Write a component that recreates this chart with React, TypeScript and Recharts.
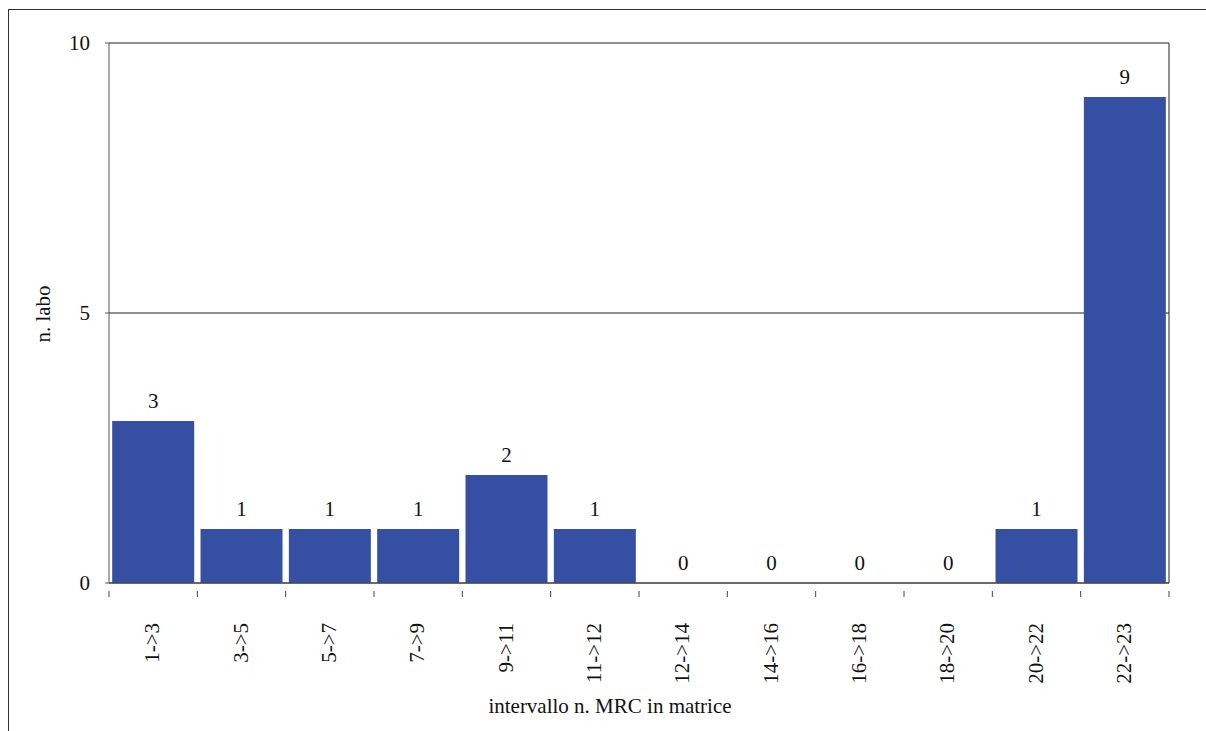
import { Bar, Line, XAxis, YAxis, CartesianGrid, LabelList, ComposedChart } from "recharts";

// Labs per interval of reference materials in the matrix
const intervals = [
  "1->3",
  "3->5",
  "5->7",
  "7->9",
  "9->11",
  "11->12",
  "12->14",
  "14->16",
  "16->18",
  "18->20",
  "20->22",
  "22->23",
];
const labCounts = [3, 1, 1, 1, 2, 1, 0, 0, 0, 0, 1, 9];
const yTicks = [0, 5, 10];

const data = intervals.map((name, i) => ({ name, count: labCounts[i] }));

const WIDTH = 1206;
const HEIGHT = 731;
const PLOT_LEFT = 109;
const PLOT_RIGHT_GAP = 37;
const BAND = (WIDTH - PLOT_LEFT - PLOT_RIGHT_GAP) / intervals.length;
const FONT = '"Liberation Serif", "Times New Roman", serif';
const TEXT = { fontSize: 21, fill: "#111", fontFamily: FONT };

type TickProps = {
  x?: number;
  y?: number;
  index?: number;
  payload?: { value: string };
};

// Rotated category label, with tick marks on the band edges instead of the centre
function IntervalTick({ x = 0, y = 0, index = 0, payload }: TickProps) {
  const left = x - BAND / 2;
  const right = x + BAND / 2;
  return (
    <g>
      <line x1={left} y1={y} x2={left} y2={y + 6} stroke="#444" />
      {index === intervals.length - 1 && (
        <line x1={right} y1={y} x2={right} y2={y + 6} stroke="#444" />
      )}
      <text
        x={x + 6}
        y={y + 32}
        transform={`rotate(-90, ${x + 6}, ${y + 32})`}
        textAnchor="end"
        {...TEXT}
      >
        {payload?.value}
      </text>
    </g>
  );
}

export default function App() {
  return (
    <div
      style={{
        position: "fixed",
        left: 0,
        top: 0,
        width: WIDTH,
        height: HEIGHT,
        overflow: "hidden",
        background: "#fff",
      }}
    >
      <div
        style={{
          position: "absolute",
          left: 8,
          top: 9,
          width: 1300,
          height: 800,
          borderLeft: "1.5px solid #333",
          borderTop: "1.5px solid #333",
        }}
      />
      <div style={{ position: "absolute", left: 0, top: 0 }}>
        <ComposedChart
          width={WIDTH}
          height={HEIGHT}
          data={data}
          margin={{ top: 43, right: 0, bottom: 0, left: 0 }}
          barCategoryGap="3.6%"
          style={{ fontFamily: FONT }}
        >
          <CartesianGrid vertical={false} stroke="#222" />
          <XAxis
            dataKey="name"
            interval={0}
            tickLine={false}
            axisLine={{ stroke: "#444" }}
            tick={<IntervalTick />}
            height={148}
          />
          <YAxis
            domain={[0, 10]}
            ticks={yTicks}
            width={PLOT_LEFT}
            tickSize={4}
            tickMargin={15}
            axisLine={{ stroke: "#555" }}
            tickLine={{ stroke: "#555" }}
            tick={TEXT}
          />
          <YAxis
            yAxisId="frame"
            orientation="right"
            width={PLOT_RIGHT_GAP}
            tick={false}
            tickLine={false}
            axisLine={{ stroke: "#222" }}
          />
          <Bar dataKey="count" fill="#3550A2" isAnimationActive={false} />
          {/* invisible series that carries the value labels, zeros included */}
          <Line
            dataKey="count"
            stroke="none"
            dot={false}
            activeDot={false}
            legendType="none"
            isAnimationActive={false}
          >
            <LabelList dataKey="count" position="top" offset={13} style={TEXT} />
          </Line>
          <text
            x={50}
            y={314}
            transform="rotate(-90, 50, 314)"
            textAnchor="middle"
            {...TEXT}
          >
            n. labo
          </text>
          <text x={610} y={713} textAnchor="middle" {...TEXT}>
            intervallo n. MRC in matrice
          </text>
        </ComposedChart>
      </div>
    </div>
  );
}
